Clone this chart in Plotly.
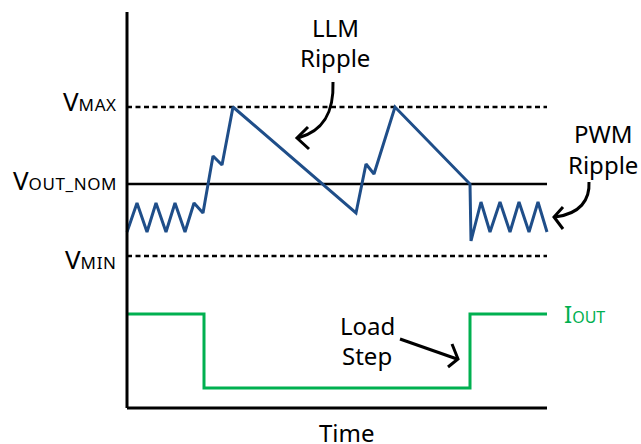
import plotly.graph_objects as go

# Schematic waveform values (time in arbitrary units, voltage in arbitrary units)
vout_t = [0, 10, 20, 29, 39, 48, 58, 67, 76, 86, 95, 106, 229, 239, 247, 268,
          343, 344, 354, 363, 373, 383, 392, 402, 411, 420]
vout_v = [176, 205, 176, 205, 176, 205, 176, 205, 195, 252, 243, 301, 195, 244, 234, 301,
          224, 167, 206, 176, 206, 176, 206, 176, 206, 176]

iout_t = [0, 77, 77, 343, 343, 420]
iout_v = [94, 94, 20, 20, 94, 94]

SUB = "<span style='font-size:17px;letter-spacing:0.6px'>"
level_names = ["V" + SUB + "MAX</span>",
               "V" + SUB + "OUT_NOM</span>",
               "V" + SUB + "MIN</span>"]
level_values = [301, 224, 152]
level_dash = ["dash", "solid", "dash"]

T_END = 420
V_TOP = 396

BLUE = "#1F4E89"
GREEN = "#00B050"
FONT = "Noto Sans"


def P(px, py):
    """pixel position -> data coordinates (for decoration placement)"""
    return px - 127, 408 - py


fig = go.Figure()

# reference levels
for name, val, d in zip(level_names, level_values, level_dash):
    fig.add_trace(go.Scatter(x=[0, T_END], y=[val, val], mode="lines",
                             line=dict(color="black", width=2.5,
                                       dash="5px,3.5px" if d == "dash" else "solid"),
                             hoverinfo="skip", showlegend=False))

fig.add_trace(go.Scatter(x=iout_t, y=iout_v, mode="lines",
                         line=dict(color=GREEN, width=3), showlegend=False))
fig.add_trace(go.Scatter(x=vout_t, y=vout_v, mode="lines",
                         line=dict(color=BLUE, width=3), showlegend=False))

shapes = []
# axes
shapes.append(dict(type="line", x0=0, x1=0, y0=0, y1=V_TOP, xref="x", yref="y",
                   line=dict(color="black", width=3)))
shapes.append(dict(type="line", x0=0, x1=T_END, y0=0, y1=0, xref="x", yref="y",
                   line=dict(color="black", width=3)))


def curve(p0, c1, c2, p1):
    a, b, c, d = P(*p0), P(*c1), P(*c2), P(*p1)
    return f"M {a[0]},{a[1]} C {b[0]},{b[1]} {c[0]},{c[1]} {d[0]},{d[1]}"


def poly(*pts):
    q = [P(*p) for p in pts]
    return "M " + " L ".join(f"{x},{y}" for x, y in q)


arrow_line = dict(color="black", width=3)
# LLM ripple arrow
shapes.append(dict(type="path", xref="x", yref="y", line=arrow_line,
                   path=curve((333, 82), (334, 112), (324, 131), (298, 138))))
shapes.append(dict(type="path", xref="x", yref="y", line=arrow_line,
                   path=poly((308, 127), (297, 138), (309, 149))))
# PWM ripple arrow
shapes.append(dict(type="path", xref="x", yref="y", line=arrow_line,
                   path=curve((589, 182), (590, 200), (580, 214), (555, 217))))
shapes.append(dict(type="path", xref="x", yref="y", line=arrow_line,
                   path=poly((563, 207), (554, 217), (563, 229))))
# Load step arrow
shapes.append(dict(type="path", xref="x", yref="y", line=arrow_line,
                   path=poly((400, 339), (457, 359))))
shapes.append(dict(type="path", xref="x", yref="y", line=arrow_line,
                   path=poly((452, 344), (458, 359), (448, 367))))

annotations = []


def text(px, py, s, size=24, color="black", xanchor="center"):
    x, y = P(px, py)
    annotations.append(dict(x=x, y=y, xref="x", yref="y", text=s, showarrow=False,
                            xanchor=xanchor, yanchor="middle",
                            font=dict(family=FONT, size=size, color=color)))


label_py = [101, 180, 259]
for name, py in zip(level_names, label_py):
    text(119, py, name, size=26, xanchor="right")

text(335, 27, "LLM")
text(335, 57, "Ripple")
text(603, 133, "PWM")
text(603, 164, "Ripple")
text(367, 325, "Load")
text(367, 355, "Step")
text(347, 432, "Time")
text(562, 313, "I<span style='font-size:16px'>OUT</span>", color=GREEN, xanchor="left")

fig.update_layout(
    width=641, height=444,
    margin=dict(l=0, r=0, t=0, b=0),
    paper_bgcolor="white", plot_bgcolor="white",
    xaxis=dict(range=[-127, 514], visible=False, fixedrange=True),
    yaxis=dict(range=[-36, 408], visible=False, fixedrange=True),
    shapes=shapes, annotations=annotations,
    showlegend=False,
)

fig.write_html("out.html", config={"displayModeBar": False},
               post_script="document.body.style.margin='0';document.body.style.overflow='hidden';")
